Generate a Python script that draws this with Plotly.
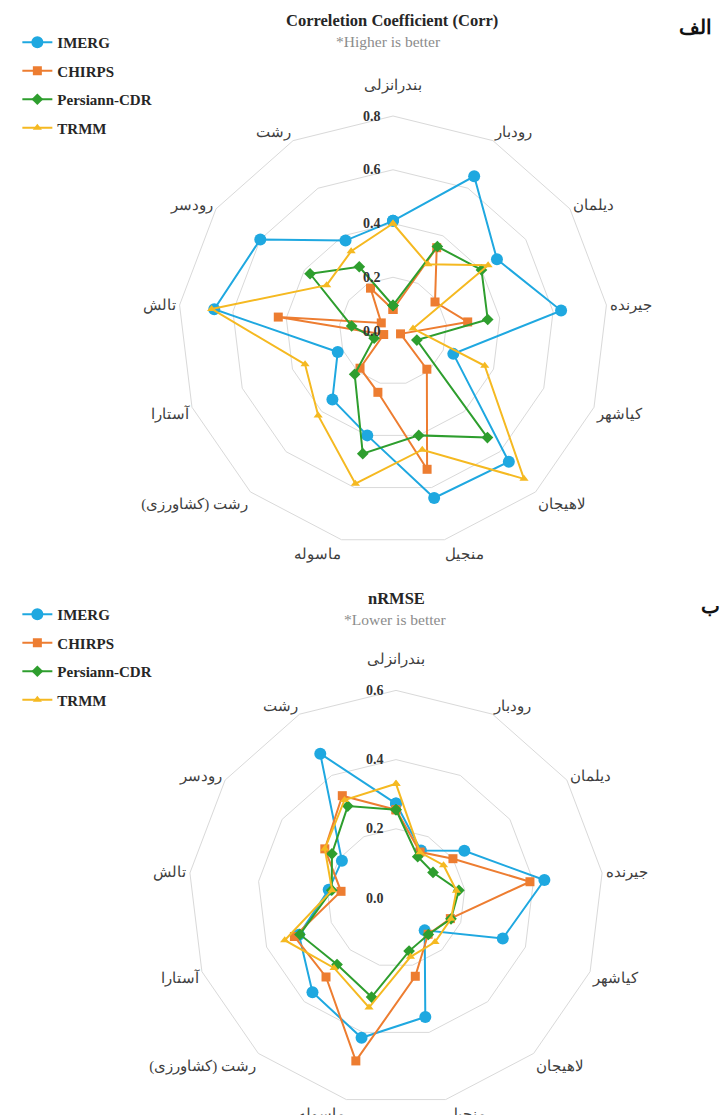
import plotly.graph_objects as go

# Stations, clockwise from the top of each radar
stations = ["بندرانزلی", "رودبار", "دیلمان", "جیرنده", "کیاشهر", "لاهیجان", "منجیل",
            "ماسوله", "رشت (کشاورزی)", "آستارا", "تالش", "رودسر", "رشت"]

products = ["IMERG", "CHIRPS", "Persiann-CDR", "TRMM"]

# Correlation coefficient per station
corr_imerg = [0.41, 0.65, 0.47, 0.63, 0.24, 0.65, 0.64, 0.40, 0.34, 0.22, 0.67, 0.60, 0.38]
corr_chirps = [0.08, 0.35, 0.19, 0.28, 0.03, 0.19, 0.53, 0.235, 0.185, 0.037, 0.43, 0.053, 0.18]
corr_persiann = [0.095, 0.355, 0.40, 0.355, 0.095, 0.53, 0.40, 0.47, 0.215, 0.075, 0.155, 0.375, 0.27]
corr_trmm = [0.40, 0.28, 0.43, 0.075, 0.365, 0.735, 0.455, 0.585, 0.42, 0.35, 0.68, 0.30, 0.335]

# Normalised RMSE per station
nrmse_imerg = [0.273, 0.155, 0.24, 0.432, 0.33, 0.125, 0.354, 0.416, 0.364, 0.30, 0.196, 0.19, 0.471]
nrmse_chirps = [0.255, 0.15, 0.20, 0.39, 0.168, 0.14, 0.233, 0.485, 0.305, 0.314, 0.16, 0.25, 0.334]
nrmse_persiann = [0.255, 0.135, 0.13, 0.183, 0.17, 0.141, 0.158, 0.295, 0.257, 0.297, 0.187, 0.225, 0.30]
nrmse_trmm = [0.33, 0.149, 0.167, 0.176, 0.17, 0.17, 0.175, 0.326, 0.27, 0.344, 0.186, 0.25, 0.32]

corr_ticks = [0.0, 0.2, 0.4, 0.6, 0.8]
nrmse_ticks = [0.0, 0.2, 0.4, 0.6]

colors = {"IMERG": "#1FA8E0", "CHIRPS": "#ED7D31", "Persiann-CDR": "#2E9E2E", "TRMM": "#F5B921"}
symbols = {"IMERG": "circle", "CHIRPS": "square", "Persiann-CDR": "diamond", "TRMM": "triangle-up"}
msizes = {"IMERG": 12, "CHIRPS": 9, "Persiann-CDR": 9, "TRMM": 8}

SERIF = "Liberation Serif, Times New Roman, DejaVu Serif, serif"
W, H = 723, 1115

corr_data = dict(zip(products, [corr_imerg, corr_chirps, corr_persiann, corr_trmm]))
nrmse_data = dict(zip(products, [nrmse_imerg, nrmse_chirps, nrmse_persiann, nrmse_trmm]))

# The top station label gets a blank second line so it sits clear of the radial ticks
station_text = [stations[0] + "<br>\u00a0"] + stations[1:]

fig = go.Figure()


def closed(vals):
    return list(vals) + [vals[0]]


for subplot, legend, data in [("polar", "legend", corr_data), ("polar2", "legend2", nrmse_data)]:
    for p in products:
        fig.add_trace(go.Scatterpolar(
            r=closed(data[p]), theta=closed(stations), name=p,
            mode="lines+markers", subplot=subplot, legend=legend, legendgroup=legend + p,
            line=dict(color=colors[p], width=2),
            marker=dict(symbol=symbols[p], size=msizes[p], color=colors[p]),
            cliponaxis=False,
        ))


def box(cx, cy, r):
    return dict(x=[(cx - r) / W, (cx + r) / W], y=[1 - (cy + r) / H, 1 - (cy - r) / H])


def polar_layout(cx, cy, r, rmax, ticks):
    return dict(
        domain=box(cx, cy, r),
        bgcolor="white",
        gridshape="linear",
        angularaxis=dict(
            rotation=90, direction="clockwise", showgrid=False, showline=True,
            linecolor="#d9d9d9", linewidth=1, ticks="",
            tickmode="array", tickvals=stations, ticktext=station_text,
            tickfont=dict(family=SERIF, size=15, color="#404040"),
        ),
        radialaxis=dict(
            range=[0, rmax], tickvals=ticks, tickformat=".1f", showline=False,
            ticks="outside", ticklen=7, tickcolor="rgba(0,0,0,0)",
            gridcolor="#d9d9d9", gridwidth=1, angle=90, tickangle=90, side="counterclockwise",
            tickfont=dict(family=SERIF, size=14, color="#333333", weight="bold"),
        ),
    )


legend_style = dict(
    xanchor="left", yanchor="top", bgcolor="rgba(0,0,0,0)",
    font=dict(family=SERIF, size=15, color="#262626", weight="bold"),
    tracegroupgap=6, itemwidth=30,
)

fig.update_layout(
    width=W, height=H, margin=dict(l=0, r=0, t=0, b=0),
    paper_bgcolor="white", plot_bgcolor="white", showlegend=True,
    polar=polar_layout(393, 331, 215, 0.8, corr_ticks),
    polar2=polar_layout(396, 898, 207.6, 0.6, nrmse_ticks),
    legend=dict(x=0.024, y=1 - 26 / H, **legend_style),
    legend2=dict(x=0.024, y=1 - 598 / H, **legend_style),
)

annotations = [
    dict(text="Correletion Coefficient (Corr)", x=392 / W, y=1 - 20 / H,
         font=dict(family=SERIF, size=16.5, color="#262626", weight="bold")),
    dict(text="*Higher is better", x=388 / W, y=1 - 42 / H,
         font=dict(family=SERIF, size=15.5, color="#8c8c8c")),
    dict(text="nRMSE", x=396 / W, y=1 - 598 / H,
         font=dict(family=SERIF, size=16.5, color="#262626", weight="bold")),
    dict(text="*Lower is better", x=395 / W, y=1 - 619 / H,
         font=dict(family=SERIF, size=15.5, color="#8c8c8c")),
    dict(text="الف", x=695 / W, y=1 - 27 / H,
         font=dict(family=SERIF, size=20, color="#111111", weight="bold")),
    dict(text="ب", x=722 / W, y=1 - 606 / H, xanchor="right",
         font=dict(family=SERIF, size=20, color="#111111", weight="bold")),
]
for a in annotations:
    a.setdefault("xanchor", "center")
    fig.add_annotation(xref="paper", yref="paper", yanchor="middle", showarrow=False, **a)

fig.write_html("out.html")
